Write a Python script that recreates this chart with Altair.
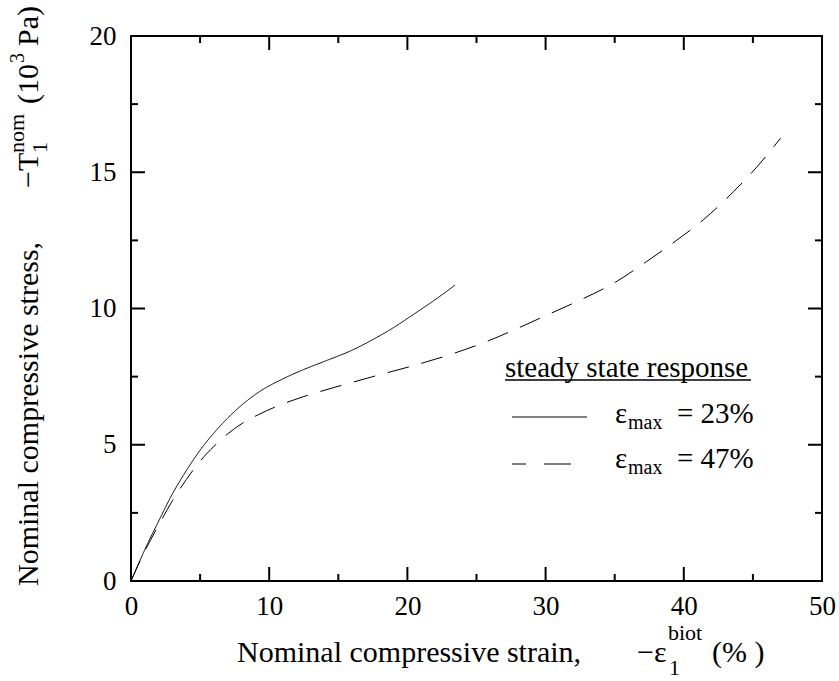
import altair as alt
import pandas as pd

FONT = "Liberation Serif, Times New Roman, Times, serif"

# ---- data ----
x_ticks = [0, 10, 20, 30, 40, 50]
y_ticks = [0, 5, 10, 15, 20]
x_major = [10, 20, 30, 40]
x_minor = [5, 15, 25, 35, 45]
y_major = [5, 10, 15]
y_minor = [2.5, 7.5, 12.5, 17.5]

strain_23 = [0, 1, 2, 3, 4, 5, 6.4, 8, 9.3, 11, 12.5, 14.2, 16, 17.5, 19, 20.4, 22, 23.45]
stress_23 = [0, 1.15, 2.2, 3.2, 4.05, 4.8, 5.66, 6.45, 6.95, 7.42, 7.76, 8.1, 8.47, 8.86, 9.3, 9.77, 10.32, 10.86]

strain_47 = [0, 1, 2, 3, 4, 5, 6, 7, 8, 9.2, 10.5, 12.5, 14.9, 17.5, 20.2, 22.6, 25.7, 27.7,
             30.1, 32.5, 34.9, 37.3, 39.5, 41.4, 43.6, 45.3, 47.0]
stress_47 = [0, 1.1, 2.05, 2.95, 3.72, 4.4, 4.94, 5.4, 5.77, 6.1, 6.4, 6.77, 7.13, 7.5, 7.87,
             8.23, 8.78, 9.21, 9.76, 10.31, 10.92, 11.72, 12.51, 13.25, 14.29, 15.2, 16.25]

series_names = ["23", "47"]

rows = []
for i, (a, b) in enumerate(zip(strain_23, stress_23)):
    rows.append({"strain": a, "stress": b, "series": "23", "i": i})
for i, (a, b) in enumerate(zip(strain_47, stress_47)):
    rows.append({"strain": a, "stress": b, "series": "47", "i": i})
df = pd.DataFrame(rows)

# ---- layout ----
W, H = 691, 545
PADL, PADT = 131, 36
xs = alt.Scale(domain=[0, 50], nice=False, zero=False)
ys = alt.Scale(domain=[0, 20], nice=False, zero=False)

x_axis = alt.Axis(values=x_ticks, title=None, ticks=False, tickSize=0, domain=False, grid=False,
                  labelPadding=12, labelFontSize=27, labelFont=FONT, labelColor="black",
                  labelFlush=False, labelOverlap=False)
y_axis = alt.Axis(values=y_ticks, title=None, ticks=False, tickSize=0, domain=False, grid=False,
                  labelPadding=15, labelFontSize=27, labelFont=FONT, labelColor="black",
                  labelFlush=False, labelOverlap=False)

lines = alt.Chart(df).mark_line(color="black", strokeWidth=1, interpolate="monotone").encode(
    x=alt.X("strain:Q", scale=xs, axis=x_axis, title=None),
    y=alt.Y("stress:Q", scale=ys, axis=y_axis, title=None),
    strokeDash=alt.StrokeDash("series:N", scale=alt.Scale(domain=series_names, range=[[1, 0], [22, 13]]),
                              legend=None),
    detail="series:N",
    order="i:Q",
)


def xtick_layer(vals, length, bottom=True):
    d = pd.DataFrame({"strain": vals})
    y1, y2 = (H, H - length) if bottom else (0, length)
    return alt.Chart(d).mark_rule(color="black", strokeWidth=2).encode(
        x=alt.X("strain:Q", scale=xs, axis=x_axis, title=None), y=alt.value(y1), y2=alt.value(y2))


def ytick_layer(vals, length, left=True):
    d = pd.DataFrame({"stress": vals})
    x1, x2 = (0, length) if left else (W, W - length)
    return alt.Chart(d).mark_rule(color="black", strokeWidth=2).encode(
        y=alt.Y("stress:Q", scale=ys, axis=y_axis, title=None), x=alt.value(x1), x2=alt.value(x2))


def txt(s, ax, ay, size=30, angle=0, align="left"):
    return alt.Chart(pd.DataFrame({"t": [s]})).mark_text(
        font=FONT, fontSize=size, angle=angle, align=align, baseline="alphabetic", color="black"
    ).encode(text="t:N", x=alt.value(ax - PADL), y=alt.value(ay - PADT))


def seg(x1, x2, y, dash=None, width=1.0):
    kw = dict(color="black", strokeWidth=width)
    if dash:
        kw["strokeDash"] = dash
    return alt.Chart(pd.DataFrame({"a": [0]})).mark_rule(**kw).encode(
        x=alt.value(x1 - PADL), x2=alt.value(x2 - PADL), y=alt.value(y - PADT))


layers = [
    lines,
    xtick_layer(x_major, 14, True), xtick_layer(x_minor, 7, True),
    xtick_layer(x_major, 14, False), xtick_layer(x_minor, 7, False),
    ytick_layer(y_major, 14, True), ytick_layer(y_minor, 7, True),
    ytick_layer(y_major, 14, False), ytick_layer(y_minor, 7, False),
    # x-axis title
    txt("Nominal compressive strain,", 237, 662),
    txt("\u2212\u03b5", 637, 662),
    txt("biot", 668, 640, size=22),
    txt("1", 669, 675, size=22),
    txt("(% )", 712, 662),
    # y-axis title (rotated)
    txt("Nominal compressive stress,", 38, 586, angle=270),
    txt("\u2212T", 38, 188, angle=270),
    txt("nom", 24, 153, size=22, angle=270),
    txt("1", 47, 153, size=22, angle=270),
    txt("(10", 38, 104, angle=270),
    txt("3", 24, 63, size=20, angle=270),
    txt("Pa)", 38, 46, angle=270),
    # legend
    txt("steady state response", 505, 377, size=29),
    seg(505, 751, 380, width=1.5),
    seg(512, 587, 417),
    txt("\u03b5", 615, 423, size=29),
    txt("max", 628, 429, size=20),
    txt("= 23%", 677, 423, size=29),
    seg(512, 571, 464, dash=[14, 18, 30]),
    txt("\u03b5", 615, 468, size=29),
    txt("max", 628, 474, size=20),
    txt("= 47%", 677, 468, size=29),
]

chart = alt.layer(*layers).properties(
    width=W, height=H,
    autosize=alt.AutoSizeParams(type="none"),
    padding={"left": PADL, "top": PADT, "right": 839 - PADL - W, "bottom": 681 - PADT - H},
    background="white",
).configure_view(stroke="black", strokeWidth=2)

chart.save("out.html", embed_options={"renderer": "svg", "actions": False})
